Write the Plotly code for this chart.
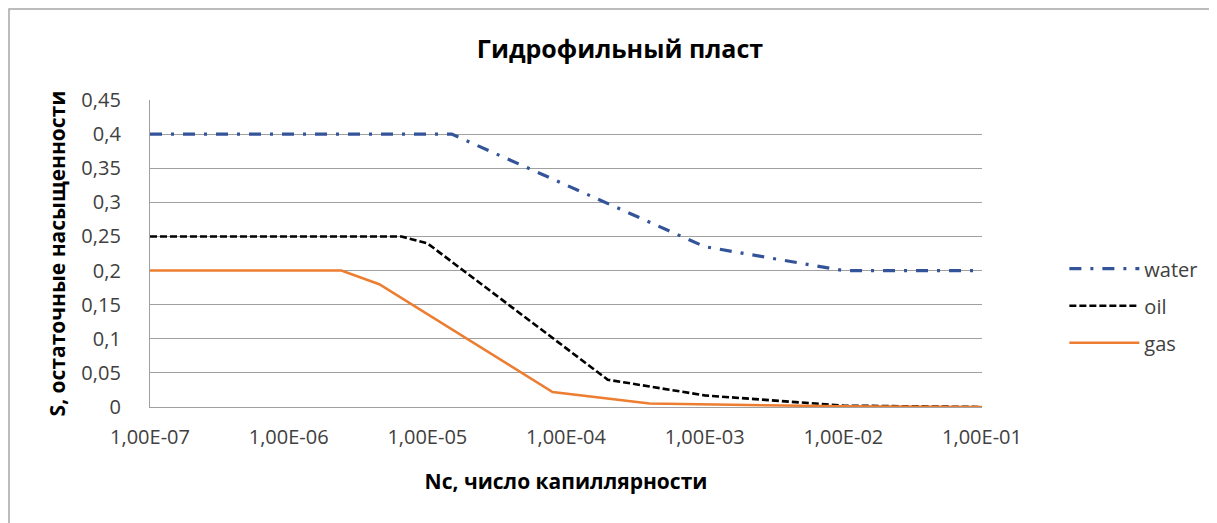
import plotly.graph_objects as go

# Data
water_nc = [1e-7, 1.5e-5, 1e-3, 1e-2, 1e-1]
water_s = [0.40, 0.40, 0.235, 0.20, 0.20]

oil_nc = [1e-7, 6.5e-6, 1e-5, 2e-4, 1e-3, 1e-2, 1e-1]
oil_s = [0.25, 0.25, 0.24, 0.04, 0.017, 0.002, 0.0]

gas_nc = [1e-7, 2.4e-6, 4.5e-6, 8e-5, 4e-4, 1e-2, 1e-1]
gas_s = [0.20, 0.20, 0.18, 0.022, 0.005, 0.001, 0.0]

x_tickvals = [1e-7, 1e-6, 1e-5, 1e-4, 1e-3, 1e-2, 1e-1]
x_ticktext = ["1,00E-07", "1,00E-06", "1,00E-05", "1,00E-04", "1,00E-03", "1,00E-02", "1,00E-01"]

title = "Гидрофильный пласт"
x_title = "Nc, число капиллярности"
y_title = "S, остаточные насыщенности"

FONT = "Open Sans"
TXT = "#404040"

W, H = 1209, 515
L, T, PW, PH = 142, 92, 832, 307

fig = go.Figure()
fig.add_trace(go.Scatter(x=water_nc, y=water_s, mode="lines", name="water",
                         legendgroup="w",
                         line=dict(color="#34549A", width=3.2, dash="12px,9px,3px,9px")))
fig.add_trace(go.Scatter(x=oil_nc, y=oil_s, mode="lines", name="oil",
                         legendgroup="o",
                         line=dict(color="#000000", width=2.6, dash="7px,3px")))
fig.add_trace(go.Scatter(x=gas_nc, y=gas_s, mode="lines", name="gas",
                         legendgroup="g",
                         line=dict(color="#ED7D31", width=2.5)))

fig.update_layout(
    width=W, height=H,
    margin=dict(l=L, r=W - L - PW, t=T, b=H - T - PH),
    paper_bgcolor="white", plot_bgcolor="white",
    separators=", ",
    font=dict(family=FONT, color=TXT, size=20),
    title=dict(text=title, x=(620 - 8) / W, xanchor="center", y=1 - (49 - 8) / H, yanchor="middle",
               font=dict(family=FONT, size=25, color="#000000", weight="bold")),
    showlegend=True,
    legend=dict(x=1.099, xanchor="left", y=0.33, yanchor="middle",
                font=dict(family=FONT, size=20, color=TXT),
                itemwidth=70, tracegroupgap=8,
                bgcolor="rgba(0,0,0,0)"),
    shapes=[dict(type="rect", xref="paper", yref="paper",
                 x0=(1 - L) / PW, x1=1.4, y0=-0.5, y1=(T + PH - 1) / PH,
                 line=dict(color="#A6A6A6", width=1.5), fillcolor="rgba(0,0,0,0)",
                 layer="below")],
)

fig.update_xaxes(
    type="log", range=[-7, -1],
    tickvals=x_tickvals, ticktext=x_ticktext,
    showgrid=False, showline=True, linecolor="#A0A0A0", linewidth=1.3,
    ticks="", ticklabelstandoff=12,
    tickfont=dict(family=FONT, size=20, color=TXT),
    title=dict(text=x_title, standoff=25,
               font=dict(family=FONT, size=21, color="#000000", weight="bold")),
    zeroline=False,
)
fig.update_yaxes(
    range=[0, 0.45], dtick=0.05, tick0=0,
    showgrid=True, gridcolor="#A0A0A0", gridwidth=1.3,
    showline=True, linecolor="#A0A0A0", linewidth=1.3,
    ticks="", ticklabelstandoff=24,
    tickfont=dict(family=FONT, size=20, color=TXT),
    title=dict(text=y_title, standoff=10,
               font=dict(family=FONT, size=21, color="#000000", weight="bold")),
    zeroline=False,
)

fig.write_html("out.html")
